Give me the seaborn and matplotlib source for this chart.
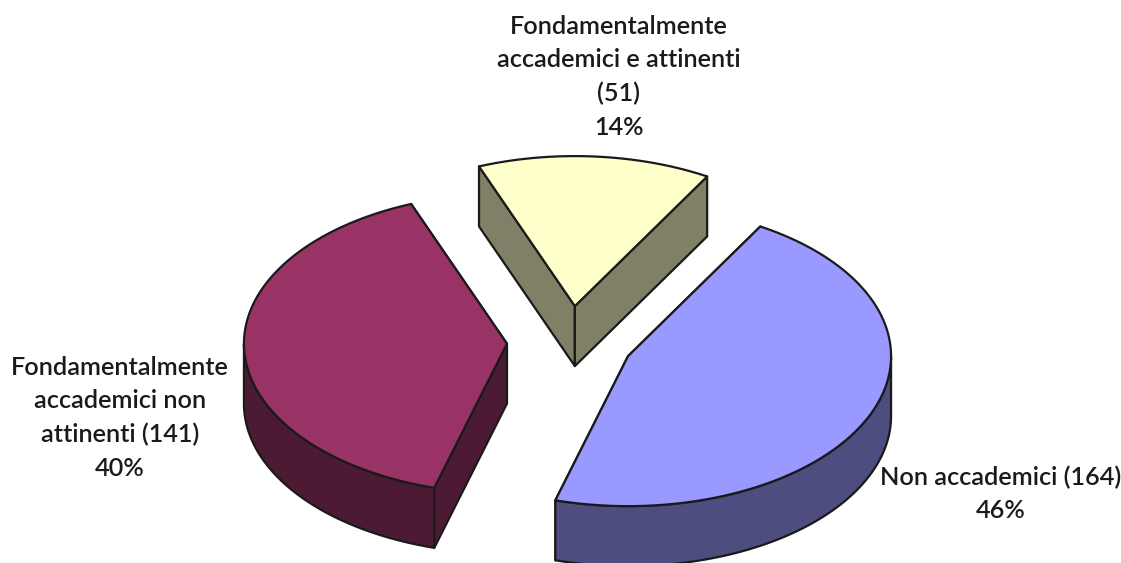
import numpy as np
import matplotlib
matplotlib.use("Agg")
import matplotlib.pyplot as plt
from matplotlib.patches import Polygon
import seaborn as sns

categories = ['Non accademici (164)',
              'Fondamentalmente\naccademici non\nattinenti (141)',
              'Fondamentalmente\naccademici e attinenti\n(51)']
counts = [164, 141, 51]
percents = ['46%', '40%', '14%']
top_colors = ['#9999FF', '#993366', '#FFFFCC']
side_colors = ['#4D4D80', '#4D1A33', '#808066']

sns.set_theme(style="white")
plt.rcParams['font.family'] = ['Lato', 'DejaVu Sans']

W, H = 1121, 563
cx, cy = 570.0, 342.0   # pie centre, pixels
rx, ry = 263.0, 150.0
depth = 60.0
explode = 0.24
start = 59.8            # degrees, slices run clockwise

label_pos = [(1001, 494), (120, 418), (619, 77)]

fig = plt.figure(figsize=(W/100, H/100), dpi=100)
ax = fig.add_axes([0, 0, 1, 1])
ax.set_xlim(0, W)
ax.set_ylim(H, 0)
ax.axis('off')

sweeps = np.array(counts) / sum(counts) * 360
ends = start - np.cumsum(sweeps)
starts = ends + sweeps
mids = (starts + ends) / 2


def ell(x0, y0, deg):
    t = np.radians(deg)
    return np.column_stack([x0 + rx*np.cos(t), y0 - ry*np.sin(t)])


def face(pts, color, z):
    ax.add_patch(Polygon(pts, closed=True, facecolor=color, edgecolor='k',
                         lw=1.6, joinstyle='round', zorder=z))


# back slice first so the nearer ones cover it
for i in [2, 1, 0]:
    z = 3 - i
    m = np.radians(mids[i])
    x0 = cx + explode*rx*np.cos(m)
    y0 = cy - explode*ry*np.sin(m)
    down = np.array([0, depth])
    apex = np.array([x0, y0])
    degs = np.linspace(starts[i], ends[i], 200)
    arc = ell(x0, y0, degs)

    # cut walls, the one further back first
    for p in sorted((arc[0], arc[-1]), key=lambda q: q[1]):
        face([apex, p, p + down, apex + down], side_colors[i], z + 0.1)

    # outer rim, front half of the ellipse only
    front = arc[np.sin(np.radians(degs)) <= 0]
    if len(front):
        face(np.vstack([front, (front + down)[::-1]]), side_colors[i], z + 0.2)

    face(np.vstack([apex, arc]), top_colors[i], z + 0.3)

for (lx, ly), name, pct in zip(label_pos, categories, percents):
    ax.text(lx, ly, name + '\n' + pct, ha='center', va='center', fontsize=18.2,
            fontweight='semibold', color='k', linespacing=1.55, zorder=10)

plt.savefig("out.png", dpi=100)
